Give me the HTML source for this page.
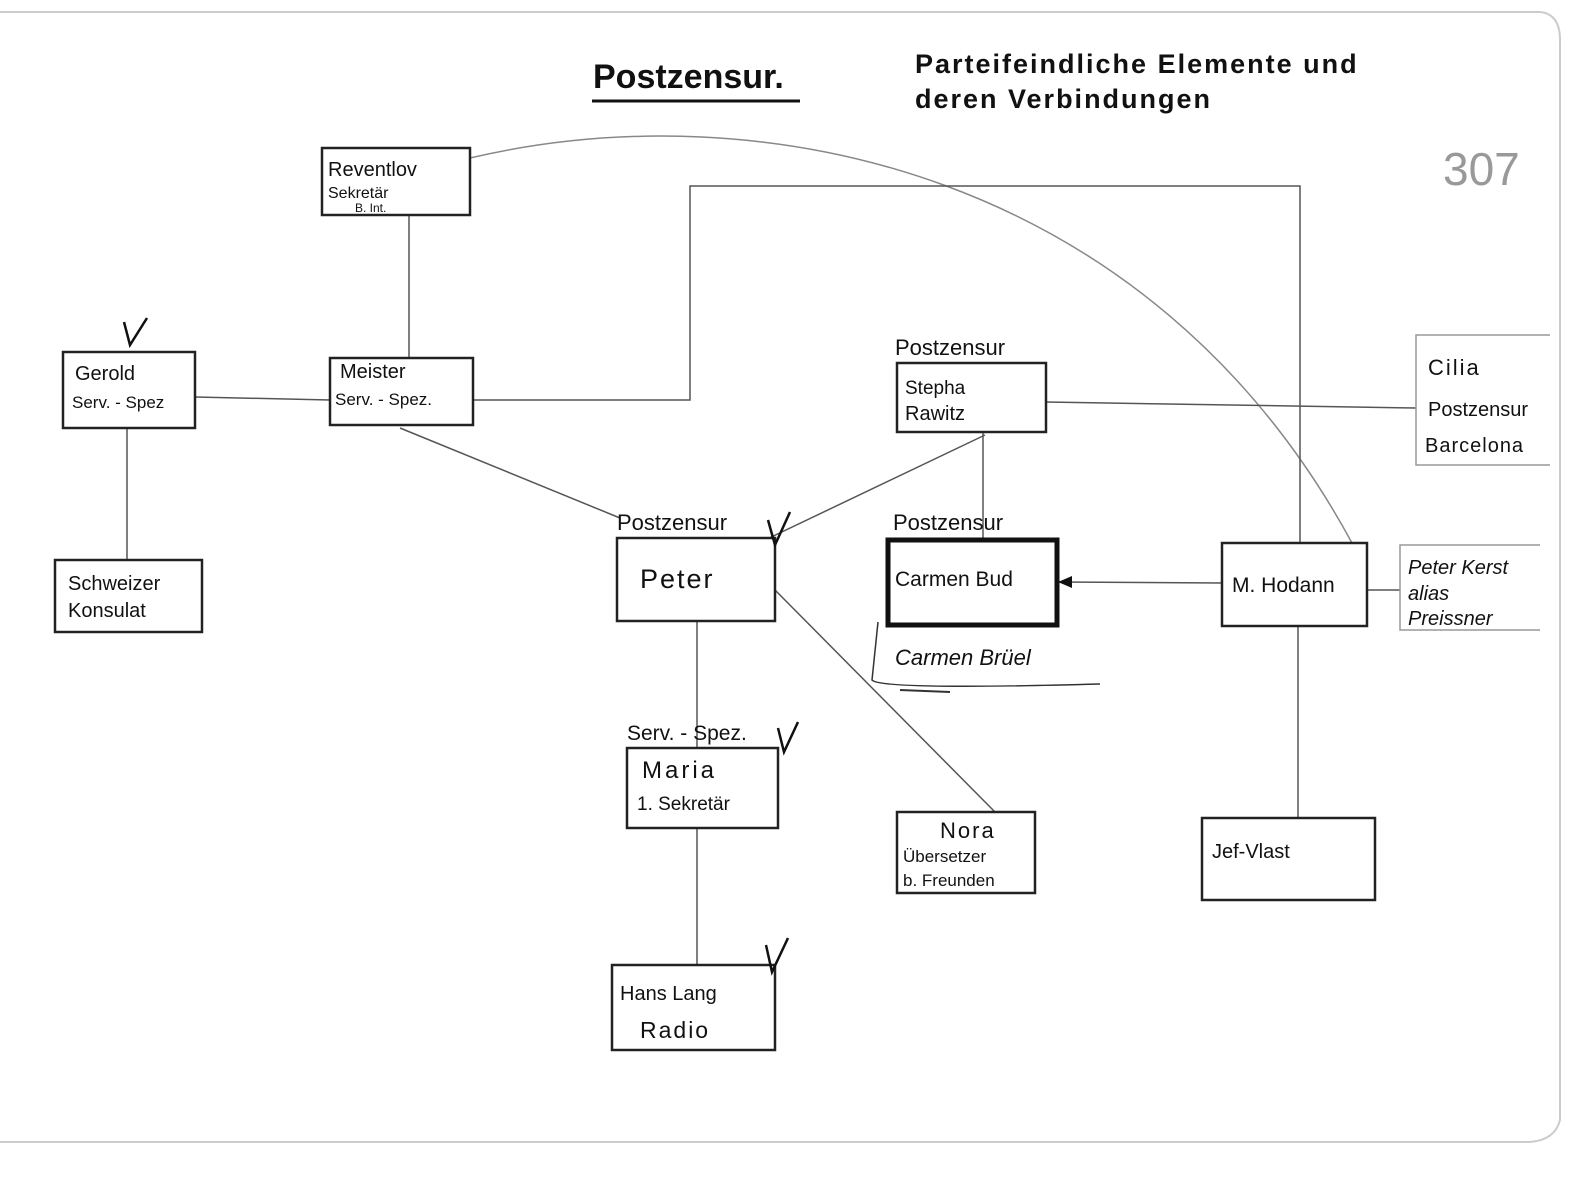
<!DOCTYPE html>
<html><head><meta charset="utf-8"><style>
html,body{margin:0;padding:0;background:#fff;}
svg{display:block;}
text{font-family:"Liberation Sans",sans-serif;fill:#111;}
</style></head><body>
<svg width="1595" height="1180" viewBox="0 0 1595 1180" xmlns="http://www.w3.org/2000/svg">
<rect width="1595" height="1180" fill="#fff"/>
<!-- paper edges -->
<path d="M0,12 L1540,12 Q1560,14 1560,40 L1560,1120 Q1555,1140 1530,1142 L0,1142" fill="none" stroke="#ccc" stroke-width="2"/>
<!-- title -->
<text x="593" y="88" font-size="34" font-weight="bold">Postzensur.</text>
<line x1="592" y1="101" x2="800" y2="101" stroke="#111" stroke-width="3"/>
<text x="915" y="73" font-size="27" font-weight="bold" letter-spacing="2">Parteifeindliche Elemente und</text>
<text x="915" y="108" font-size="27" font-weight="bold" letter-spacing="2">deren Verbindungen</text>
<text x="1443" y="185" font-size="46" fill="#999" style="fill:#999">307</text>

<g stroke="#555" stroke-width="1.5" fill="none">
<!-- arc -->
<path d="M470,158 C760,90 1150,170 1352,543" stroke="#888"/>
<line x1="409" y1="215" x2="409" y2="358"/>
<line x1="195" y1="397" x2="330" y2="400"/>
<line x1="127" y1="428" x2="127" y2="560"/>
<polyline points="473,400 690,400 690,186 1300,186 1300,543"/>
<line x1="400" y1="428" x2="620" y2="518"/>
<line x1="765" y1="540" x2="985" y2="435"/>
<line x1="983" y1="432" x2="983" y2="540"/>
<line x1="1046" y1="402" x2="1416" y2="408"/>
<line x1="1057" y1="582" x2="1222" y2="583"/>
<line x1="1367" y1="590" x2="1400" y2="590"/>
<line x1="1298" y1="626" x2="1298" y2="818"/>
<line x1="697" y1="621" x2="697" y2="748"/>
<line x1="775" y1="590" x2="995" y2="812"/>
<line x1="697" y1="828" x2="697" y2="965"/>
</g>
<path d="M1058,582 L1072,576 L1072,588 Z" fill="#111"/>

<!-- boxes -->
<g fill="#fff" stroke="#222" stroke-width="2.5">
<rect x="322" y="148" width="148" height="67"/>
<rect x="330" y="358" width="143" height="67"/>
<rect x="63" y="352" width="132" height="76"/>
<rect x="55" y="560" width="147" height="72"/>
<rect x="897" y="363" width="149" height="69"/>
<rect x="617" y="538" width="158" height="83"/>
<rect x="1222" y="543" width="145" height="83"/>
<rect x="627" y="748" width="151" height="80"/>
<rect x="897" y="812" width="138" height="81"/>
<rect x="1202" y="818" width="173" height="82"/>
<rect x="612" y="965" width="163" height="85"/>
</g>
<rect x="888" y="540" width="169" height="85" fill="#fff" stroke="#111" stroke-width="5"/>
<g stroke="#999" stroke-width="1.5" fill="none">
<polyline points="1550,335 1416,335 1416,465 1550,465"/>
<polyline points="1540,545 1400,545 1400,630 1540,630"/>
</g>

<!-- texts -->
<g font-size="20">
<text x="328" y="176">Reventlov</text>
<text x="328" y="198" font-size="16">Sekretär</text>
<text x="355" y="212" font-size="12">B. Int.</text>
<text x="340" y="378">Meister</text>
<text x="335" y="405" font-size="17">Serv. - Spez.</text>
<text x="75" y="380">Gerold</text>
<text x="72" y="408" font-size="17">Serv. - Spez</text>
<text x="68" y="590">Schweizer</text>
<text x="68" y="617">Konsulat</text>
<text x="895" y="355" font-size="22">Postzensur</text>
<text x="905" y="394" font-size="19">Stepha</text>
<text x="905" y="420">Rawitz</text>
<text x="617" y="530" font-size="22">Postzensur</text>
<text x="640" y="588" font-size="27" letter-spacing="2">Peter</text>
<text x="893" y="530" font-size="22">Postzensur</text>
<text x="895" y="586" font-size="21">Carmen Bud</text>
<text x="895" y="665" font-size="22" font-style="italic" fill="#333">Carmen Brüel</text>
<text x="1232" y="592" font-size="21">M. Hodann</text>
<text x="1408" y="574" font-style="italic">Peter Kerst</text>
<text x="1408" y="600" font-style="italic">alias</text>
<text x="1408" y="625" font-style="italic">Preissner</text>
<text x="1428" y="375" font-size="22" letter-spacing="2">Cilia</text>
<text x="1428" y="416">Postzensur</text>
<text x="1425" y="452" letter-spacing="1">Barcelona</text>
<text x="627" y="740" font-size="21">Serv. - Spez.</text>
<text x="642" y="778" font-size="24" letter-spacing="3">Maria</text>
<text x="637" y="810" font-size="19">1. Sekretär</text>
<text x="940" y="838" font-size="22" letter-spacing="2">Nora</text>
<text x="903" y="862" font-size="17">Übersetzer</text>
<text x="903" y="886" font-size="17">b. Freunden</text>
<text x="1212" y="858">Jef-Vlast</text>
<text x="620" y="1000">Hans Lang</text>
<text x="640" y="1038" font-size="23" letter-spacing="2">Radio</text>
</g>
<path d="M878,622 L872,680 Q880,690 1100,684" fill="none" stroke="#333" stroke-width="1.5"/>
<line x1="900" y1="690" x2="950" y2="692" stroke="#333" stroke-width="2"/>

<!-- checkmarks -->
<g stroke="#111" stroke-width="2.5" fill="none">
<polyline points="124,322 130,345 147,318"/>
<polyline points="768,520 775,545 790,512"/>
<polyline points="778,728 784,752 798,722"/>
<polyline points="766,945 772,972 788,938"/>
</g>
</svg>
</body></html>
